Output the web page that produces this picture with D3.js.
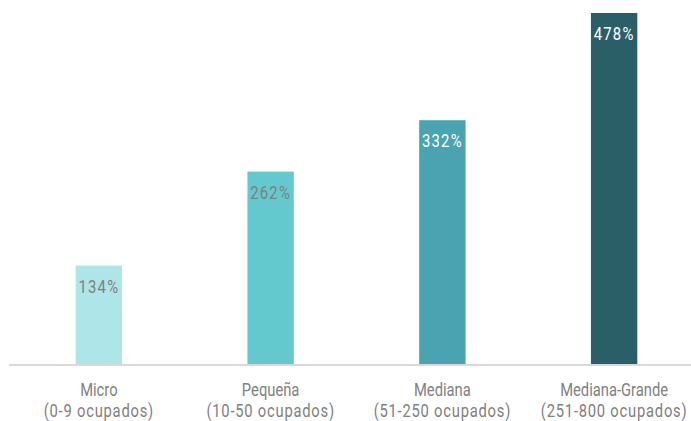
<!DOCTYPE html>
<html>
<head>
<meta charset="utf-8">
<script src="https://cdn.jsdelivr.net/npm/d3@7"></script>
<style>
  body { margin: 0; background: #fff; }
  text { font-family: "Roboto", "Liberation Sans", sans-serif; }
</style>
</head>
<body>
<script>
const width = 691, height = 421;

const categories = ["Micro", "Pequeña", "Mediana", "Mediana-Grande"];
const subLabels = ["(0-9 ocupados)", "(10-50 ocupados)", "(51-250 ocupados)", "(251-800 ocupados)"];
const values = [134, 262, 332, 478];
const barColors = ["#aee5e9", "#63c9ce", "#4aa3b1", "#2b5f68"];
const labelColors = ["#7f7f7f", "#7f7f7f", "#ffffff", "#ffffff"];

const baseY = 364;

const svg = d3.select("body")
	.append("svg")
	.attr("width", width)
	.attr("height", height)

const x = d3.scaleBand()
	.domain(categories)
	.range([13, 700])
	.paddingInner(0.73)
	.paddingOuter(0.365)

const y = d3.scaleLinear()
	.domain([0, 478])
	.range([baseY, 13])

// narrow font imitation: squeeze text horizontally
function squeeze(sel, cx, cy, sx) {
	sel.attr("x", 0).attr("y", 0)
		.attr("transform", `translate(${cx},${cy}) scale(${sx},1)`)
}

// bars
svg.selectAll("rect.bar")
	.data(values)
	.enter()
	.append("rect")
	.attr("class", "bar")
	.attr("x", (d, i) => x(categories[i]))
	.attr("y", d => y(d))
	.attr("width", x.bandwidth())
	.attr("height", d => baseY - y(d))
	.attr("fill", (d, i) => barColors[i])

// baseline
svg.append("line")
	.attr("x1", 9)
	.attr("x2", width)
	.attr("y1", baseY + 1)
	.attr("y2", baseY + 1)
	.attr("stroke", "#d9d9d9")
	.attr("stroke-width", 2)

// value labels
let vals = svg.selectAll("text.val")
	.data(values)
	.enter()
	.append("text")
	.attr("class", "val")
	.attr("text-anchor", "middle")
	.attr("font-size", 18)
	.attr("letter-spacing", 1.5)
	.attr("fill", (d, i) => labelColors[i])
	.text(d => d + "%")
let vw = vals.node().getComputedTextLength();
let vs = 41 / vw;
vals.each(function(d, i) {
	squeeze(d3.select(this), x(categories[i]) + x.bandwidth() / 2, y(d) + 27, vs);
})

// category labels
let catText = [];
categories.forEach((c, i) => {
	const t1 = svg.append("text")
		.attr("text-anchor", "middle")
		.attr("font-size", 19)
		.attr("fill", "#808080")
		.text(c)
	const t2 = svg.append("text")
		.attr("text-anchor", "middle")
		.attr("font-size", 19)
		.attr("letter-spacing", 1)
		.attr("fill", "#808080")
		.text(subLabels[i])
	catText.push([t1, t2]);
})
let cw = catText[3][0].node().getComputedTextLength();
let cs = 108 / cw;
catText.forEach((pair, i) => {
	const cx = x(categories[i]) + x.bandwidth() / 2;
	squeeze(pair[0], cx, 396, cs);
	squeeze(pair[1], cx, 417, cs);
})
</script>
</body>
</html>
